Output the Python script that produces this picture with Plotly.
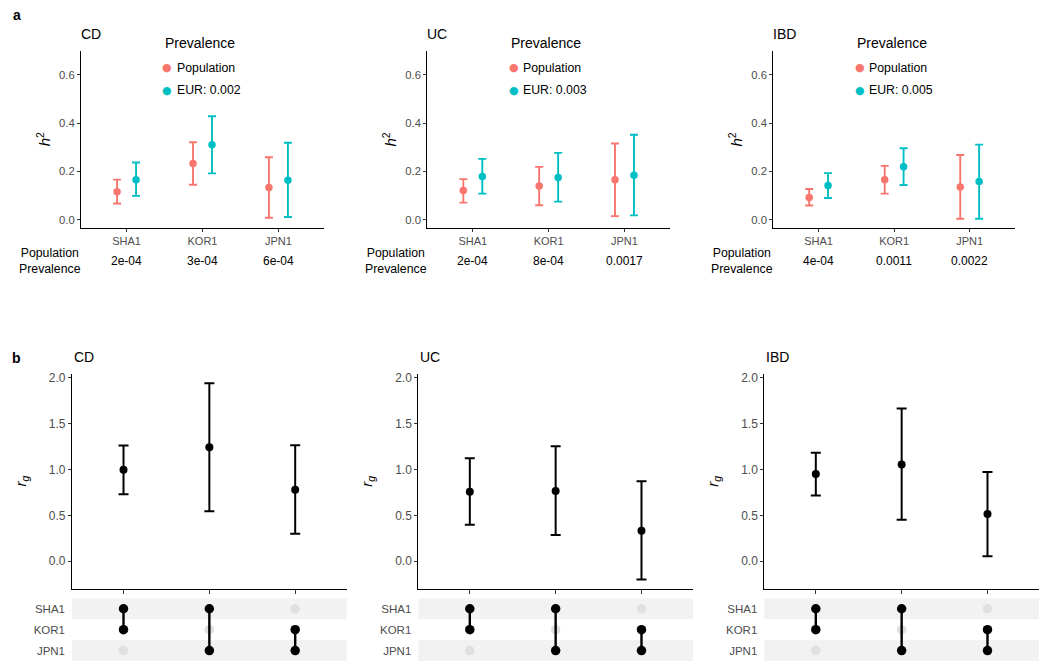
import plotly.graph_objects as go

# ---------------- data ----------------
pops = ["SHA1", "KOR1", "JPN1"]
diseases = ["CD", "UC", "IBD"]
eur_prev = ["0.002", "0.003", "0.005"]

prev_cd = ["2e-04", "3e-04", "6e-04"]
prev_uc = ["2e-04", "8e-04", "0.0017"]
prev_ibd = ["4e-04", "0.0011", "0.0022"]

# h2 on liability scale using population prevalence
h2_pop_cd = [0.116, 0.233, 0.134]
h2_pop_cd_lo = [0.067, 0.145, 0.008]
h2_pop_cd_hi = [0.166, 0.321, 0.259]
h2_pop_uc = [0.121, 0.140, 0.166]
h2_pop_uc_lo = [0.071, 0.060, 0.015]
h2_pop_uc_hi = [0.168, 0.219, 0.316]
h2_pop_ibd = [0.092, 0.166, 0.136]
h2_pop_ibd_lo = [0.059, 0.108, 0.004]
h2_pop_ibd_hi = [0.127, 0.223, 0.268]

# h2 on liability scale using EUR prevalence
h2_eur_cd = [0.166, 0.311, 0.164]
h2_eur_cd_lo = [0.099, 0.192, 0.011]
h2_eur_cd_hi = [0.237, 0.429, 0.319]
h2_eur_uc = [0.179, 0.175, 0.184]
h2_eur_uc_lo = [0.108, 0.075, 0.018]
h2_eur_uc_hi = [0.252, 0.277, 0.352]
h2_eur_ibd = [0.142, 0.219, 0.158]
h2_eur_ibd_lo = [0.090, 0.144, 0.004]
h2_eur_ibd_hi = [0.193, 0.296, 0.311]

# genetic correlations between population pairs
pairs = [["SHA1", "KOR1"], ["SHA1", "JPN1"], ["KOR1", "JPN1"]]
rg_cd = [0.998, 1.244, 0.781]
rg_cd_lo = [0.731, 0.546, 0.300]
rg_cd_hi = [1.262, 1.942, 1.266]
rg_uc = [0.759, 0.767, 0.333]
rg_uc_lo = [0.398, 0.286, -0.199]
rg_uc_hi = [1.125, 1.255, 0.872]
rg_ibd = [0.951, 1.056, 0.514]
rg_ibd_lo = [0.716, 0.452, 0.054]
rg_ibd_hi = [1.183, 1.667, 0.973]

# ---------------- style / layout ----------------
W, H = 1050, 668
FONT = "Liberation Sans, Arial, Helvetica, sans-serif"
RED = "#F8766D"
TEAL = "#00BFC4"
TICKGRAY = "#4D4D4D"
DODGE = 0.125

prev_all = [prev_cd, prev_uc, prev_ibd]
h2_pop = [(h2_pop_cd, h2_pop_cd_lo, h2_pop_cd_hi),
          (h2_pop_uc, h2_pop_uc_lo, h2_pop_uc_hi),
          (h2_pop_ibd, h2_pop_ibd_lo, h2_pop_ibd_hi)]
h2_eur = [(h2_eur_cd, h2_eur_cd_lo, h2_eur_cd_hi),
          (h2_eur_uc, h2_eur_uc_lo, h2_eur_uc_hi),
          (h2_eur_ibd, h2_eur_ibd_lo, h2_eur_ibd_hi)]
rg_all = [(rg_cd, rg_cd_lo, rg_cd_hi),
          (rg_uc, rg_uc_lo, rg_uc_hi),
          (rg_ibd, rg_ibd_lo, rg_ibd_hi)]

a_x = [(81, 324), (427.3, 670), (773.3, 1015)]
a_y = (48, 225.7)
b_x = [(72, 346.7), (418.3, 693), (764.3, 1039)]
b_y = (373, 588.3)
m_y = (598, 661)


def xd(p):
    return [p[0] / W, p[1] / W]


def yd(p):
    return [1 - p[1] / H, 1 - p[0] / H]


fig = go.Figure()
layout = dict(
    width=W, height=H, margin=dict(l=0, r=0, t=0, b=0),
    paper_bgcolor="white", plot_bgcolor="white",
    font=dict(family=FONT, size=11, color="black"),
    showlegend=False,
)
annotations = []
shapes = []

xpos = [i + 1 for i in range(len(pops))]
row_of = {p: len(pops) - i for i, p in enumerate(pops)}


def ax_common(fs=11.3, **kw):
    d = dict(showline=True, linecolor="black", linewidth=1.1, ticks="outside",
             ticklen=3, tickwidth=1, tickcolor="#333333", showgrid=False,
             zeroline=False, tickfont=dict(size=fs, color=TICKGRAY, family=FONT))
    d.update(kw)
    return d


def err(vals, lo, hi):
    return dict(type="data", symmetric=False,
                array=[h - v for v, h in zip(vals, hi)],
                arrayminus=[v - l for v, l in zip(vals, lo)])


def ann(text, xref, yref, x, y, xs=0, ys=0, xanchor="center", yanchor="middle",
        **font):
    f = dict(size=12.3)
    f.update(font)
    return dict(text=text, xref=xref, yref=yref, x=x, y=y, xshift=xs, yshift=ys,
                xanchor=xanchor, yanchor=yanchor, showarrow=False, font=f)


for k, dis in enumerate(diseases):
    # ---------- panel a ----------
    n = k + 1
    xa, ya = (f"x{n}" if n > 1 else "x"), (f"y{n}" if n > 1 else "y")
    series = [(h2_pop[k], RED, -DODGE, "Population"),
              (h2_eur[k], TEAL, DODGE, f"EUR: {eur_prev[k]}")]
    for (vals, lo, hi), col, off, nm in series:
        e = err(vals, lo, hi)
        e.update(color=col, thickness=1.9, width=4)
        fig.add_trace(go.Scatter(
            x=[x + off for x in xpos], y=vals, mode="markers", name=nm,
            marker=dict(color=col, size=7.5), error_y=e,
            xaxis=xa, yaxis=ya))
    layout[f"xaxis{n if n > 1 else ''}"] = ax_common(
        fs=11, domain=xd(a_x[k]), anchor=ya, range=[0.4, 3.6],
        tickmode="array", tickvals=xpos, ticktext=pops)
    layout[f"yaxis{n if n > 1 else ''}"] = ax_common(
        domain=yd(a_y), anchor=xa, range=[-0.033, 0.70],
        tickmode="array", tickvals=[0, 0.2, 0.4, 0.6], tickformat=".1f")

    dx = f"{xa} domain"
    dy = f"{ya} domain"
    annotations += [
        ann(dis, dx, dy, 0, 1, xs=-2, ys=7, xanchor="left", yanchor="bottom",
            size=14),
        dict(ann("<i>h</i><sup>2</sup>", dx, dy, 0, 0.5, xs=-38, size=15),
             textangle=-90),
        ann("Prevalence", dx, dy, 0, 1, xs=119, ys=8, size=14),
        ann("●", dx, dy, 0, 1, xs=86.3, ys=-17, size=11, color=RED,
            family="DejaVu Sans"),
        ann("●", dx, dy, 0, 1, xs=86.3, ys=-39.7, size=11, color=TEAL,
            family="DejaVu Sans"),
        ann("Population", dx, dy, 0, 1, xs=94, ys=-17, xanchor="left"),
        ann(f"EUR: {eur_prev[k]}", dx, dy, 0, 1, xs=94, ys=-39.7,
            xanchor="left"),
        ann("Population<br>Prevalence", dx, dy, 0, 0, xs=-31, ys=-33.3),
    ]
    for xi, pv in zip(xpos, prev_all[k]):
        annotations.append(ann(pv, xa, dy, xi, 0, ys=-33.3, size=12))

    # ---------- panel b ----------
    nb = k + 4
    xb, yb = f"x{nb}", f"y{nb}"
    vals, lo, hi = rg_all[k]
    e = err(vals, lo, hi)
    e.update(color="black", thickness=2, width=5)
    fig.add_trace(go.Scatter(x=xpos, y=vals, mode="markers",
                             marker=dict(color="black", size=8), error_y=e,
                             xaxis=xb, yaxis=yb))
    layout[f"xaxis{nb}"] = ax_common(
        domain=xd(b_x[k]), anchor=yb, range=[0.4, 3.6], ticklen=4,
        tickmode="array", tickvals=xpos, showticklabels=False)
    layout[f"yaxis{nb}"] = ax_common(
        fs=12, domain=yd(b_y), anchor=xb, range=[-0.30, 2.04],
        tickmode="array", tickvals=[0, 0.5, 1.0, 1.5, 2.0], tickformat=".1f")
    annotations += [
        ann(dis, f"{xb} domain", f"{yb} domain", 0, 1, ys=7, xanchor="left",
            yanchor="bottom", size=14),
        dict(ann("<i>r</i><sub><i>g</i></sub>", f"{xb} domain", f"{yb} domain",
                 0, 0.5, xs=-51, size=15), textangle=-90),
    ]

    # ---------- matrix ----------
    nm_ = k + 7
    xm, ym = f"x{nm_}", f"y{nm_}"
    for p in pops:
        if row_of[p] % 2 == 1:
            shapes.append(dict(type="rect", xref=f"{xm} domain", yref=ym,
                               x0=0, x1=1, y0=row_of[p] - 0.5,
                               y1=row_of[p] + 0.5, fillcolor="#F2F2F2",
                               line=dict(width=0), layer="below"))
    gx, gy = [], []
    for xi, pr in zip(xpos, pairs):
        for p in pops:
            if p not in pr:
                gx.append(xi)
                gy.append(row_of[p])
    fig.add_trace(go.Scatter(x=gx, y=gy, mode="markers",
                             marker=dict(color="#E0E0E0", size=9.5),
                             xaxis=xm, yaxis=ym, hoverinfo="skip"))
    for xi, pr in zip(xpos, pairs):
        fig.add_trace(go.Scatter(x=[xi, xi], y=[row_of[pr[0]], row_of[pr[1]]],
                                 mode="lines+markers",
                                 line=dict(color="black", width=2.4),
                                 marker=dict(color="black", size=9.5),
                                 xaxis=xm, yaxis=ym))
    layout[f"xaxis{nm_}"] = dict(domain=xd(b_x[k]), anchor=ym, range=[0.4, 3.6],
                                 showline=False, showgrid=False, zeroline=False,
                                 showticklabels=False, ticks="")
    layout[f"yaxis{nm_}"] = dict(domain=yd(m_y), anchor=xm, range=[0.5, 3.5],
                                 showline=False, showgrid=False, zeroline=False,
                                 ticks="", tickmode="array",
                                 tickvals=[row_of[p] for p in pops],
                                 ticktext=pops, ticklabelstandoff=6,
                                 tickfont=dict(size=11.5, color=TICKGRAY,
                                               family=FONT))

annotations += [
    ann("<b>a</b>", "paper", "paper", 16.7 / W, 1 - 11.7 / H, size=14),
    ann("<b>b</b>", "paper", "paper", 16.7 / W, 1 - 356.7 / H, size=14),
]
layout["annotations"] = annotations
layout["shapes"] = shapes
fig.update_layout(**layout)
fig.write_html("out.html", config={"displayModeBar": False},
               post_script="document.body.style.margin='0';"
                           "document.body.style.overflow='hidden';")
